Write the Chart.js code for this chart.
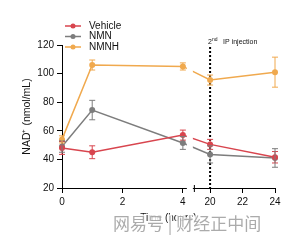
<!DOCTYPE html>
<html><head><meta charset="utf-8">
<script src="https://cdn.jsdelivr.net/npm/chart.js@4.4.1/dist/chart.umd.min.js"></script>
<style>html,body{margin:0;padding:0;background:#fff}</style>
</head><body>
<canvas id="c" width="294" height="243"></canvas>
<script>
// time points (hours) and group means / SEM, NAD+ nmol/mL
const TIMES=[0,1,4,20,24];
const VEHICLE=[48,45,57,50.5,41.5];
const VEHICLE_SEM=[4.5,4.5,3.5,3.5,4];
const NMN=[49,74.5,51.5,43.5,41];
const NMN_SEM=[4,6.8,4.5,6,6.5];
const NMNH=[54,106,105,95.5,101];
const NMNH_SEM=[2.5,3.5,2.5,3.5,10.5];
const X_TICKS=[0,2,4,20,22,24];
const Y_TICKS=[20,40,60,80,100,120];
const LABELS=['Vehicle','NMN','NMNH'];
const COLORS=['#d8454e','#7d7d7d','#f0a94e'];

// broken x axis: 0-4 then 19-24 on a compressed scale
const GAP=0.364,K=0.537;
const axisPos=t=>t<=4?t:4+GAP+(t-19)*K;

const FONT='"Liberation Sans", Arial, sans-serif';
Chart.defaults.font.family=FONT;
Chart.defaults.color='#111';

const mk=(i,vals)=>({
  label:LABELS[i],
  data:vals.map((v,j)=>({x:axisPos(TIMES[j]),y:v})),
  borderColor:COLORS[i],backgroundColor:COLORS[i],
  borderWidth:1.5,pointRadius:3,pointBorderWidth:0,pointHoverRadius:3,
  clip:false,tension:0
});
const SEMS=[VEHICLE_SEM,NMN_SEM,NMNH_SEM];

const extras={
  id:'extras',
  beforeDatasetsDraw(chart){
    const {ctx,scales:{x,y}}=chart;
    const px=x.getPixelForValue(axisPos(20));
    ctx.save();
    ctx.strokeStyle='#000';ctx.lineWidth=2;ctx.setLineDash([2,2]);
    ctx.beginPath();ctx.moveTo(px,47);ctx.lineTo(px,y.bottom);ctx.stroke();
    ctx.restore();
  },
  afterDatasetsDraw(chart){
    const {ctx,scales:{x,y},chartArea}=chart;
    ctx.save();
    // error bars
    chart.data.datasets.forEach((ds,i)=>{
      ctx.strokeStyle=COLORS[i];ctx.lineWidth=1;
      ds.data.forEach((p,j)=>{
        const cx=x.getPixelForValue(p.x);
        const top=y.getPixelForValue(p.y+SEMS[i][j]);
        const bot=y.getPixelForValue(p.y-SEMS[i][j]);
        ctx.beginPath();
        ctx.moveTo(cx,top);ctx.lineTo(cx,bot);
        ctx.moveTo(cx-3,top);ctx.lineTo(cx+3,top);
        ctx.moveTo(cx-3,bot);ctx.lineTo(cx+3,bot);
        ctx.stroke();
      });
    });
    // axis break gap
    const g0=x.getPixelForValue(axisPos(4))+4;
    const g1=x.getPixelForValue(axisPos(19))-1;
    ctx.fillStyle='#fff';
    ctx.fillRect(g0,chartArea.top-5,g1-g0,y.bottom-chartArea.top+7);
    ctx.strokeStyle='#000';ctx.lineWidth=1;
    ctx.beginPath();ctx.moveTo(g1+1.5,y.bottom-3);ctx.lineTo(g1+1.5,y.bottom+4);ctx.stroke();
    // annotation
    const px=x.getPixelForValue(axisPos(20));
    ctx.fillStyle='#111';ctx.textBaseline='alphabetic';
    ctx.font='7px '+FONT;ctx.fillText('2',px-2,44);
    ctx.font='5px '+FONT;ctx.fillText('nd',px+2,40.5);
    ctx.font='7px '+FONT;ctx.fillText('IP injection',px+13,44);
    // legend
    const rows=[26,36.5,47];
    rows.forEach((ry,i)=>{
      ctx.strokeStyle=COLORS[i];ctx.fillStyle=COLORS[i];ctx.lineWidth=1.5;
      ctx.beginPath();ctx.moveTo(65,ry);ctx.lineTo(81,ry);ctx.stroke();
      ctx.beginPath();ctx.arc(73,ry,2.5,0,Math.PI*2);ctx.fill();
      ctx.fillStyle='#111';ctx.font='10px '+FONT;ctx.textBaseline='middle';
      ctx.fillText(LABELS[i],89,ry);
    });
    ctx.restore();
  },
  afterDraw(chart){
    const {ctx}=chart;
    ctx.save();
    ctx.font='17px "Noto Sans CJK SC", sans-serif';
    ctx.textBaseline='middle';
    ctx.lineWidth=3;ctx.strokeStyle='rgba(255,255,255,0.85)';
    ctx.strokeText('网易号 | 财经正中间',113,224);
    ctx.fillStyle='rgba(150,150,150,0.8)';
    ctx.fillText('网易号 | 财经正中间',113,224);
    ctx.restore();
  }
};

new Chart(document.getElementById('c'),{
  type:'line',
  data:{datasets:[mk(0,VEHICLE),mk(1,NMN),mk(2,NMNH)]},
  options:{
    responsive:false,animation:false,
    layout:{padding:{left:0,top:45,right:19,bottom:0}},
    plugins:{legend:{display:false},tooltip:{enabled:false}},
    scales:{
      x:{type:'linear',min:0,max:axisPos(24),
        afterBuildTicks:s=>{s.ticks=X_TICKS.map(t=>({value:axisPos(t)}));},
        afterFit:s=>{s.height=55;},
        ticks:{callback:(v,i)=>X_TICKS[i],font:{size:10},padding:3,maxRotation:0,autoSkip:false},
        grid:{drawOnChartArea:false,drawTicks:true,tickLength:5,color:'#000'},
        border:{color:'#000',width:1},
        title:{display:true,text:'Time (hours)',font:{size:10},padding:{top:0,bottom:19}}
      },
      y:{min:20,max:120,
        afterBuildTicks:s=>{s.ticks=Y_TICKS.map(v=>({value:v}));},
        afterFit:s=>{s.width=62;},
        ticks:{font:{size:10},padding:3},
        grid:{drawOnChartArea:false,drawTicks:true,tickLength:5,color:'#000'},
        border:{color:'#000',width:1},
        title:{display:true,text:'NAD⁺ (nmol/mL)',font:{size:10.5},padding:{top:21,bottom:0}}
      }
    }
  },
  plugins:[extras]
});
</script>
</body></html>
